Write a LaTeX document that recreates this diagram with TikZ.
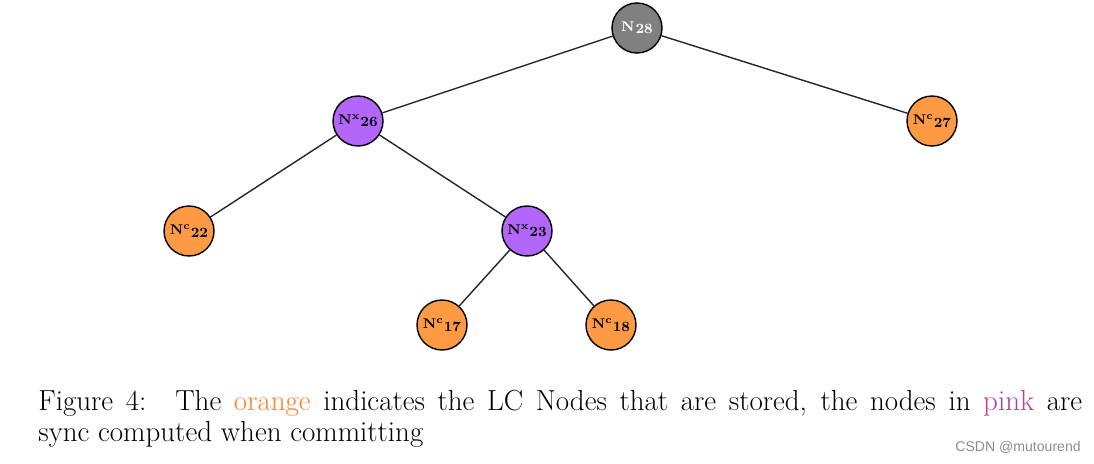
\documentclass[tikz,border=0pt]{standalone}
\usepackage{fontspec}
\newfontfamily\marksf{Liberation Sans}
\usetikzlibrary{positioning}
\usetikzlibrary{arrows,shapes}
\definecolor{lcgray}{RGB}{128,128,128}
\definecolor{lcpurple}{RGB}{178,102,250}
\definecolor{lcorange}{RGB}{255,154,68}
\definecolor{txtorange}{RGB}{255,128,42}
\definecolor{txtpink}{RGB}{176,64,154}
\newcommand\lclabel[2]{N\textsuperscript{#1}\raisebox{-0.4ex}{#2}}
\tikzstyle{lcvertex}=[circle,draw=black,thick,minimum size=1cm,inner sep=0pt,font=\fontsize{8}{9}\selectfont\bfseries]
\tikzstyle{undirectededge} = [draw,thick,black!85]
\tikzstyle{caption} = [anchor=north west,inner sep=0pt,text width=20.88cm,align=justify,font=\fontsize{16.5}{17.5}\selectfont]

\begin{document}
\begin{tikzpicture}[x=0.02cm,y=-0.02cm]
\useasboundingbox (0,0) rectangle (1094,463);

    % First we draw the vertices
    \node[lcvertex, fill=lcgray, text=white] (N28) at (637,28) {\lclabel{}{28}};
    \foreach \pos/\name/\label in {{(358,121)/N26/26}, {(527,231)/N23/23}}
        \node[lcvertex, fill=lcpurple] (\name) at \pos {\lclabel{x}{\label}};
    \foreach \pos/\name/\label in {{(932,121)/N27/27}, {(189,231)/N22/22}, {(442,325)/N17/17}, {(611,325)/N18/18}}
        \node[lcvertex, fill=lcorange] (\name) at \pos {\lclabel{c}{\label}};

    % Connect vertices with edges
  \foreach \source/ \dest in {N28/N26, N28/N27, N26/N22, N26/N23, N23/N17, N23/N18}
          \path[undirectededge] (\source) -- (\dest);

\node[caption] (cap) at (38,390) {Figure 4:\quad The \textcolor{txtorange}{orange} indicates the LC Nodes that are stored, the nodes in \textcolor{txtpink}{pink} are\linebreak sync computed when committing};
\node[anchor=east, inner sep=0pt, text=black!45, font=\marksf\fontsize{8}{9}\selectfont] (mark) at (1081,447) {CSDN @mutourend};

\end{tikzpicture}
\end{document}
